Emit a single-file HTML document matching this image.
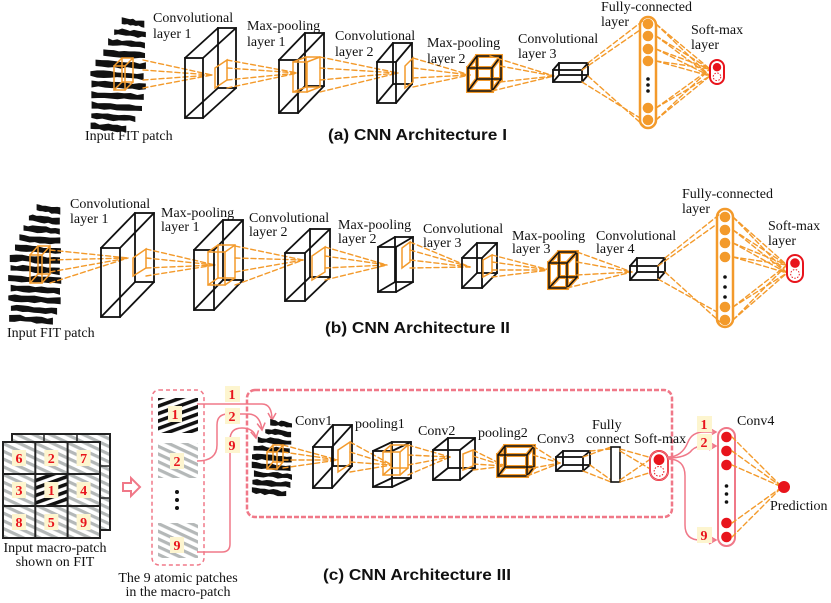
<!DOCTYPE html>
<html><head><meta charset="utf-8"><style>
html,body{margin:0;padding:0;background:#fff;width:831px;height:603px;overflow:hidden}
svg{display:block}
.t{font-family:"Liberation Serif",serif;font-size:14px;fill:#111}
.ti{font-family:"Liberation Sans",sans-serif;font-weight:bold;font-size:16px;fill:#111}
.n{font-family:"Liberation Serif",serif;font-weight:bold;font-size:14px;fill:#e8141c}
</style></head><body>
<svg id="s" width="831" height="603" viewBox="0 0 831 603" xmlns="http://www.w3.org/2000/svg">
<defs>
<pattern id="gr" width="7" height="7" patternUnits="userSpaceOnUse" patternTransform="rotate(25)">
<rect width="7" height="7" fill="#fff"/><rect width="7" height="3.2" fill="#b4b8b8"/></pattern>
<pattern id="bk" width="7" height="7" patternUnits="userSpaceOnUse" patternTransform="rotate(-20)">
<rect width="7" height="7" fill="#fff"/><rect width="7" height="3.6" fill="#111"/></pattern>
<marker id="pa" markerWidth="10" markerHeight="10" refX="8" refY="5" orient="auto" markerUnits="userSpaceOnUse">
<path d="M1,1 L8,5 L1,9" fill="none" stroke="#f07888" stroke-width="1.5"/></marker>
<marker id="oa" markerWidth="8" markerHeight="8" refX="6" refY="4" orient="auto" markerUnits="userSpaceOnUse">
<path d="M0,1 L6,4 L0,7 z" fill="#f39a2b"/></marker>
</defs>
<g id="g"></g>

<!-- (a) labels -->
<text class="t" x="153" y="22">Convolutional</text><text class="t" x="153" y="38">layer 1</text>
<text class="t" x="247" y="30">Max-pooling</text><text class="t" x="247" y="46">layer 1</text>
<text class="t" x="335" y="40">Convolutional</text><text class="t" x="335" y="56">layer 2</text>
<text class="t" x="427" y="47">Max-pooling</text><text class="t" x="427" y="63">layer 2</text>
<text class="t" x="518" y="43">Convolutional</text><text class="t" x="518" y="58">layer 3</text>
<text class="t" x="601" y="11">Fully-connected</text><text class="t" x="601" y="26">layer</text>
<text class="t" x="691" y="34">Soft-max</text><text class="t" x="691" y="49">layer</text>
<text class="t" x="85" y="140">Input FIT patch</text>
<text class="ti" x="328" y="140" textLength="179" lengthAdjust="spacingAndGlyphs">(a) CNN Architecture I</text>

<!-- (b) labels -->
<text class="t" x="70" y="208">Convolutional</text><text class="t" x="70" y="223">layer 1</text>
<text class="t" x="161" y="217">Max-pooling</text><text class="t" x="161" y="231">layer 1</text>
<text class="t" x="249" y="222">Convolutional</text><text class="t" x="249" y="236">layer 2</text>
<text class="t" x="338" y="229">Max-pooling</text><text class="t" x="338" y="243">layer 2</text>
<text class="t" x="423" y="233">Convolutional</text><text class="t" x="423" y="247">layer 3</text>
<text class="t" x="512" y="240">Max-pooling</text><text class="t" x="512" y="253">layer 3</text>
<text class="t" x="596" y="240">Convolutional</text><text class="t" x="596" y="253">layer 4</text>
<text class="t" x="682" y="198">Fully-connected</text><text class="t" x="682" y="213">layer</text>
<text class="t" x="768" y="230">Soft-max</text><text class="t" x="768" y="245">layer</text>
<text class="t" x="7" y="337">Input FIT patch</text>
<text class="ti" x="325" y="333" textLength="185" lengthAdjust="spacingAndGlyphs">(b) CNN Architecture II</text>

<!-- (c) labels -->
<text class="t" x="295" y="425">Conv1</text>
<text class="t" x="355" y="428">pooling1</text>
<text class="t" x="418" y="435">Conv2</text>
<text class="t" x="478" y="437">pooling2</text>
<text class="t" x="537" y="443">Conv3</text>
<text class="t" x="592" y="429">Fully</text><text class="t" x="586" y="443">connect</text>
<text class="t" x="634" y="443">Soft-max</text>
<text class="t" x="737" y="425">Conv4</text>
<text class="t" x="770" y="510">Prediction</text>
<text class="t" x="55" y="552" text-anchor="middle">Input macro-patch</text>
<text class="t" x="55" y="566" text-anchor="middle">shown on FIT</text>
<text class="t" x="178" y="582" text-anchor="middle">The 9 atomic patches</text>
<text class="t" x="178" y="596" text-anchor="middle">in the macro-patch</text>
<text class="ti" x="323" y="580" textLength="188" lengthAdjust="spacingAndGlyphs">(c) CNN Architecture III</text>
<g id="nums"></g>
</svg>
<script>
var NS="http://www.w3.org/2000/svg",G=document.getElementById("g"),NG=document.getElementById("nums");
function el(t,a,p){var e=document.createElementNS(NS,t);for(var k in a)e.setAttribute(k,a[k]);(p||G).appendChild(e);return e;}
var OR="#f39a2b",PK="#f07888",RD="#e8141c";
function ln(x1,y1,x2,y2,c,w,d){return el("line",{x1:x1,y1:y1,x2:x2,y2:y2,stroke:c||"#111","stroke-width":w||1.6,"stroke-dasharray":d||"","stroke-linecap":"round"});}
function dl(x1,y1,x2,y2){return ln(x1,y1,x2,y2,OR,1.4,"5,3");}
function box(x,y,w,h,dx,dy,c,sw){c=c||"#111";sw=sw||1.8;
 el("rect",{x:x+dx,y:y+dy,width:w,height:h,fill:"none",stroke:c,"stroke-width":sw});
 el("rect",{x:x,y:y,width:w,height:h,fill:"none",stroke:c,"stroke-width":sw});
 [[0,0],[w,0],[0,h],[w,h]].forEach(function(p){ln(x+p[0],y+p[1],x+p[0]+dx,y+p[1]+dy,c,sw);});}
function obox(x,y,w,h,dx,dy){box(x,y,w,h,dx,dy,OR,4);box(x,y,w,h,dx,dy,"#111",1.5);}
function para(x1,x2,yt1,yb1,yt2,yb2){el("polygon",{points:x1+","+yt1+" "+x2+","+yt2+" "+x2+","+yb2+" "+x1+","+yb1,fill:"none",stroke:OR,"stroke-width":1.5});}
function fan(src,f){src.forEach(function(p){dl(p[0],p[1],f[0],f[1]);});}
var seed=7;function rnd(){seed=(seed*9301+49297)%233280;return seed/233280;}
function stripes(x0,y0,x1,y1,sp,bh,topcut,botcut){
 for(var y=y0;y<y1;y+=sp){var r=(y-y0)/(y1-y0);
  var l=x0+Math.max(0,topcut-r)*(x1-x0)*1.2+rnd()*3, rr=x1-Math.max(0,r-botcut)*(x1-x0)*1.4-rnd()*3;
  if(rr-l<4)continue;
  var pts=[];var n=8;for(var i=0;i<=n;i++){pts.push((l+(rr-l)*i/n)+","+(y+rnd()*2-1+i*0.4));}
  for(var i=n;i>=0;i--){pts.push((l+(rr-l)*i/n)+","+(y+bh+rnd()*2-1+i*0.4));}
  el("polygon",{points:pts.join(" "),fill:"#111"});}}
function fc(x,y1,y2,cys,c){el("rect",{x:x,y:y1,width:16,height:y2-y1,rx:8,fill:"none",stroke:c,"stroke-width":2.5});
 cys.forEach(function(cy){el("circle",{cx:x+8,cy:cy,r:5.3,fill:c});});}
function dots(x,ys,r){ys.forEach(function(y){el("circle",{cx:x,cy:y,r:r||1.8,fill:"#111"});});}
function smax(x,y,w,h,c){el("rect",{x:x,y:y,width:w,height:h,rx:w/2,fill:"#fff",stroke:c,"stroke-width":2});
 el("circle",{cx:x+w/2,cy:y+h*0.3,r:w*0.3,fill:RD});
 el("circle",{cx:x+w/2,cy:y+h*0.7,r:w*0.27,fill:"none",stroke:RD,"stroke-width":1,"stroke-dasharray":"1.5,1.5"});}

/* ===== (a) ===== */
stripes(90,18,146,125,10.5,6,0.45,0.75);
box(114,66,11,24,8,-8,OR,1.5);
fan([[143,60],[143,70],[143,80],[143,88]],[212,75]);
box(185,58,18,60,33,-30);
para(215,227,68,88,60,80);
fan([[227,60],[227,68],[227,80],[227,88]],[298,73]);
box(279,60,19,53,26,-27);
box(293,62,14,30,13,-5,OR,1.5);
fan([[320,57],[320,68],[320,80],[320,92]],[398,73]);
box(377,62,19,41,16,-19);
para(405,413,66,88,58,82);
fan([[413,58],[413,68],[413,78],[413,87]],[470,75]);
obox(468,68,24,23,9,-12);
fan([[490,56],[500,66],[500,82],[492,91]],[554,76]);
box(553,70,29,12,6,-7);
dl(582,70,640,30);dl(588,63,644,20);dl(582,82,640,118);dl(588,76,644,126);
fc(640,17,128,[24,36,49,61,108,120],OR);dots(648,[79,85,91]);
[24,36,49,61,108,120].forEach(function(y){dl(656,y,710,69);dl(656,y,710,76);});
smax(710,60,14,24,RD);

/* ===== (b) ===== */
stripes(8,205,62,325,10,6,0.4,0.8);
box(30,255,12,28,8,-9,OR,1.5);
fan([[50,250],[50,260],[50,272],[50,283]],[128,258]);
box(101,248,19,69,34,-35);
para(133,146,258,276,249,268);
fan([[146,249],[146,258],[146,268],[146,276]],[215,265]);
box(194,250,20,60,29,-30);
box(208,252,17,33,10,-7,OR,1.5);
fan([[235,246],[235,258],[235,272],[235,285]],[303,260]);
box(285,253,20,48,25,-24);
para(312,325,256,280,247,272);
fan([[325,247],[325,256],[325,268],[325,280]],[387,265]);
box(378,247,18,45,17,-10);
para(402,410,248,268,242,262);
fan([[410,242],[410,250],[410,260],[410,268]],[470,267]);
box(462,258,20,30,15,-15);
para(483,492,260,277,255,272);
fan([[492,255],[492,262],[492,270],[492,277]],[550,270]);
obox(549,263,18,25,10,-11);
fan([[577,252],[577,262],[577,275],[567,288]],[632,272]);
box(630,266,28,14,7,-8);
dl(658,266,717,224);dl(665,258,720,214);dl(658,279,717,312);dl(665,272,720,322);
fc(717,209,327,[217,230,243,257,307,320],OR);dots(725,[277,287,297]);
[217,230,243,257,307,320].forEach(function(y){dl(733,y,787,265);dl(733,y,787,273);});
smax(787,255,16,27,RD);

/* ===== (c) ===== */
// macro grid
el("rect",{x:12,y:434,width:98,height:96,fill:"url(#gr)",stroke:"#222","stroke-width":2});
ln(44,434,44,442,"#222",1.5);ln(77,434,77,442,"#222",1.5);ln(100,466,110,466,"#222",1.5);ln(100,498,110,498,"#222",1.5);
el("rect",{x:3,y:442,width:97,height:96,fill:"url(#gr)",stroke:"#222","stroke-width":2});
el("rect",{x:35.3,y:474,width:32.3,height:32,fill:"url(#bk)"});
for(var i=1;i<3;i++){ln(3+i*32.3,442,3+i*32.3,538,"#222",2);ln(3,442+i*32,100,442+i*32,"#222",2);}
var nums=[[6,2,7],[3,1,4],[8,5,9]];
function nlab(x,y,t,w){el("rect",{x:x-7,y:y-8,width:w||14,height:16,fill:"#fdf5cf"},NG);var e=el("text",{x:x,y:y+5,"text-anchor":"middle","class":"n"},NG);e.textContent=t;}
for(var r=0;r<3;r++)for(var c=0;c<3;c++)nlab(19+c*32.3,458+r*32,String(nums[r][c]));
// hollow arrow
el("path",{d:"M123,483 L131,483 L131,478 L140,487 L131,496 L131,491 L123,491 Z",fill:"#fff",stroke:PK,"stroke-width":2});
// atomic patches column
el("rect",{x:152,y:390,width:52,height:175,rx:7,fill:"none",stroke:PK,"stroke-width":1.5,"stroke-dasharray":"4,3"});
el("rect",{x:158,y:398,width:40,height:35,fill:"url(#bk)"});
el("rect",{x:158,y:443,width:40,height:35,fill:"url(#gr)"});
el("rect",{x:158,y:523,width:40,height:35,fill:"url(#gr)"});
nlab(175,414,"1");nlab(177,461,"2");nlab(177,545,"9");
dots(177,[492,500,508],2);
nlab(232,394,"1",15);nlab(232,416,"2",15);nlab(232,445,"9",15);
// pink connectors
el("path",{d:"M197,404 L262,404 Q272,404 272,420",fill:"none",stroke:PK,"stroke-width":1.5,"marker-end":"url(#pa)"});
el("path",{d:"M197,461 Q217,461 217,445 L217,425 Q217,414 228,414 L248,414 Q260,414 262,430",fill:"none",stroke:PK,"stroke-width":1.5,"marker-end":"url(#pa)"});
el("path",{d:"M197,552 L222,552 Q230,552 230,544 L230,440 Q230,428 242,428 Q254,428 256,438",fill:"none",stroke:PK,"stroke-width":1.5,"marker-end":"url(#pa)"});
// big dashed frame
el("rect",{x:247,y:390,width:425,height:127,rx:8,fill:"none",stroke:PK,"stroke-width":2.5,"stroke-dasharray":"5,2"});
stripes(251,420,292,492,8.5,5,0.35,0.85);
box(267,452,10,17,6,-7,OR,1.5);
fan([[283,445],[283,452],[283,460],[283,468]],[338,460]);
box(313,447,19,41,20,-22);
para(338,350,450,472,442,464);
fan([[350,442],[350,452],[350,462],[350,472]],[392,465]);
box(373,451,19,36,19,-9);
box(383,452,17,23,8,-7,OR,1.5);
fan([[408,445],[408,455],[408,465],[408,475]],[450,457]);
box(433,450,27,30,15,-12);
para(463,473,454,470,450,466);
fan([[473,450],[473,456],[473,464],[473,470]],[505,466]);
obox(498,455,29,21,7,-9);
fan([[533,446],[533,455],[533,468],[527,476]],[560,463]);
box(556,457,27,14,7,-6);
dl(583,457,611,447);dl(590,451,611,449);dl(583,471,611,482);dl(590,465,611,480);
el("rect",{x:611,y:447,width:9,height:35,fill:"#fff",stroke:"#111","stroke-width":1.6});
dl(620,449,652,458);dl(620,451,652,470);dl(620,480,652,458);dl(620,482,652,472);
smax(650,451,18,29,RD);
el("rect",{x:650,y:451,width:18,height:29,rx:9,fill:"none",stroke:PK,"stroke-width":1});
el("path",{d:"M668,457 Q682,457 688,442 Q692,432 704,432 L716,432",fill:"none",stroke:PK,"stroke-width":1.5,"marker-end":"url(#pa)"});
el("path",{d:"M668,458 Q686,458 692,450 Q696,446 704,446 L716,446",fill:"none",stroke:PK,"stroke-width":1.5,"marker-end":"url(#pa)"});
el("path",{d:"M668,459 Q685,459 685,476 L685,525 Q685,540 700,540 L716,540",fill:"none",stroke:PK,"stroke-width":1.5,"marker-end":"url(#pa)"});
nlab(704,424,"1",15);nlab(704,442,"2",15);nlab(704,535,"9",15);
el("rect",{x:718,y:428,width:17,height:118,rx:8.5,fill:"none",stroke:PK,"stroke-width":2});
[437,451,465,523,537].forEach(function(y){el("circle",{cx:726.5,cy:y,r:5.3,fill:RD});dl(732,y,782,487);});
dots(726.5,[486,494,502]);
el("circle",{cx:784,cy:487,r:6,fill:RD});
</script>
</body></html>
